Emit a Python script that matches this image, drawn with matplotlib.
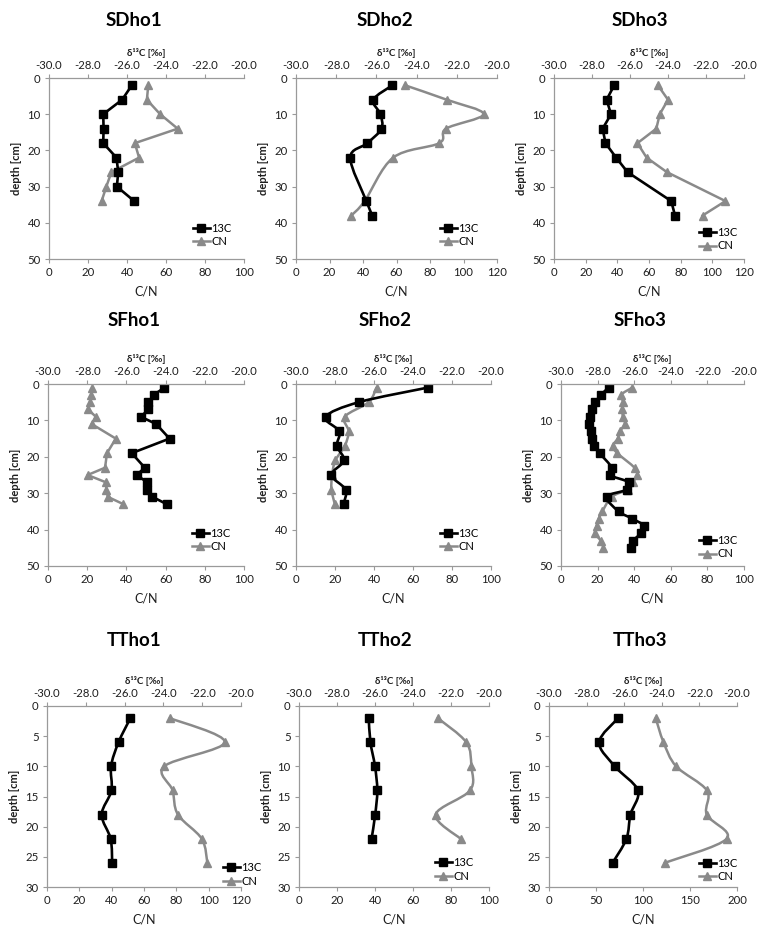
import numpy as np
import matplotlib
matplotlib.use("Agg")
import matplotlib.pyplot as plt
from matplotlib.path import Path
from matplotlib.patches import PathPatch
from matplotlib.lines import Line2D

plt.rcParams['font.family'] = ['Lato', 'DejaVu Sans']
plt.rcParams['axes.unicode_minus'] = False

# --- Daten (delta13C in Promille, C/N, Tiefe in cm) ---
sdho1_depth = [2, 6, 10, 14, 18, 22, 26, 30, 34]
sdho1_d13c = [-25.75, -26.25, -27.22, -27.2, -27.22, -26.54, -26.45, -26.52, -25.63]
sdho1_cn = [50.9, 50.2, 57.0, 66.0, 44.0, 46.2, 32.0, 29.4, 27.0]

sdho2_depth = [2, 6, 10, 14, 18, 22, 34, 38]
sdho2_d13c = [-25.2, -26.15, -25.8, -25.75, -26.45, -27.3, -26.5, -26.2]
sdho2_cn = [65.0, 90.0, 112.0, 89.5, 85.5, 58.0, 41.0, 33.0]

sdho3_depth = [2, 6, 10, 14, 18, 22, 26, 34, 38]
sdho3_d13c = [-26.83, -27.23, -27.0, -27.44, -27.29, -26.73, -26.13, -23.83, -23.63]
sdho3_cn = [65.6, 72.0, 66.8, 64.6, 52.7, 58.5, 71.3, 108.3, 93.8]

sfho1_depth = [1, 3, 5, 7, 9, 11, 15, 19, 23, 25, 27, 29, 31, 33]
sfho1_d13c = [-24.07, -24.6, -24.88, -24.88, -25.26, -24.48, -23.8, -25.73,
              -25.06, -25.48, -24.94, -24.94, -24.67, -23.95]
sfho1_cn = [22.7, 22.1, 21.4, 20.5, 24.4, 22.3, 34.6, 30.1, 29.1, 20.2, 29.5, 29.8, 30.5, 38.4]

sfho2_depth = [1, 5, 9, 13, 17, 21, 25, 29, 33]
sfho2_d13c = [-23.25, -26.78, -28.48, -27.78, -27.9, -27.54, -28.18, -27.46, -27.56]
sfho2_cn = [41.3, 37.2, 25.0, 27.0, 25.0, 20.2, 18.5, 18.2, 19.9]

sfho3_depth = [1, 3, 5, 7, 9, 11, 13, 15, 17, 19, 23, 25, 27, 29, 31, 35, 37, 39, 41, 43, 45]
sfho3_d13c = [-27.4, -27.82, -28.12, -28.32, -28.42, -28.49, -28.36, -28.28, -28.17, -27.89,
              -27.22, -27.34, -26.29, -26.38, -27.5, -26.85, -26.1, -25.45, -25.64, -26.04, -26.17]
sfho3_cn = [39.0, 32.8, 34.1, 33.6, 33.8, 35.0, 32.1, 31.0, 28.3, 30.8,
            40.2, 41.6, 39.2, 36.5, 27.7, 22.6, 20.6, 19.4, 18.6, 21.6, 23.2]

ttho1_depth = [2, 6, 10, 14, 18, 22, 26]
ttho1_d13c = [-25.7, -26.31, -26.7, -26.68, -27.18, -26.72, -26.64]
ttho1_cn = [76.0, 110.0, 72.5, 77.7, 81.0, 95.7, 99.2]

ttho2_depth = [2, 6, 10, 14, 18, 22]
ttho2_d13c = [-26.33, -26.24, -26.0, -25.88, -25.99, -26.18]
ttho2_cn = [73.0, 88.0, 90.7, 90.0, 71.9, 85.0]

ttho3_depth = [2, 6, 10, 14, 18, 22, 26]
ttho3_d13c = [-26.32, -27.33, -26.5, -25.27, -25.67, -25.88, -26.62]
ttho3_cn = [113.5, 121.8, 135.3, 168.0, 167.8, 189.0, 123.0]

# name, depth, d13c, cn, C/N-Achse (max, step), Tiefe (max, step), geglaettet
panels = [
    ("SDho1", sdho1_depth, sdho1_d13c, sdho1_cn, 100, 20, 50, 10, False),
    ("SDho2", sdho2_depth, sdho2_d13c, sdho2_cn, 120, 20, 50, 10, True),
    ("SDho3", sdho3_depth, sdho3_d13c, sdho3_cn, 120, 20, 50, 10, False),
    ("SFho1", sfho1_depth, sfho1_d13c, sfho1_cn, 100, 20, 50, 10, False),
    ("SFho2", sfho2_depth, sfho2_d13c, sfho2_cn, 100, 20, 50, 10, True),
    ("SFho3", sfho3_depth, sfho3_d13c, sfho3_cn, 100, 20, 50, 10, True),
    ("TTho1", ttho1_depth, ttho1_d13c, ttho1_cn, 120, 20, 30, 5, True),
    ("TTho2", ttho2_depth, ttho2_d13c, ttho2_cn, 100, 20, 30, 5, True),
    ("TTho3", ttho3_depth, ttho3_d13c, ttho3_cn, 200, 50, 30, 5, True),
]

# Plotflaechen in Pixel (links, rechts, oben, unten)
W, H = 757, 927
boxes = [
    (49, 244, 78, 259), (296, 497, 78, 259), (554, 744, 78, 259),
    (48, 244, 384, 566), (296, 491, 384, 566), (561, 744, 384, 566),
    (47, 241, 706, 887), (299, 489, 706, 887), (549, 737, 706, 887),
]
title_x = [134, 385, 640]
title_y = [20, 321, 641]
legend_pos = [(0.738, 0.133), (0.716, 0.133), (0.763, 0.110),
              (0.735, 0.143), (0.738, 0.143), (0.754, 0.104),
              (0.907, 0.069), (0.716, 0.097), (0.798, 0.094)]

GRAY = "#8a8a8a"
AXIS = "#9a9a9a"
TXT = "#1e1e1e"


def smooth_path(xs, ys):
    pts = np.column_stack([xs, ys]).astype(float)
    n = len(pts)
    verts = [pts[0]]
    codes = [Path.MOVETO]
    for i in range(n - 1):
        p0 = pts[max(i - 1, 0)]
        p1 = pts[i]
        p2 = pts[i + 1]
        p3 = pts[min(i + 2, n - 1)]
        verts += [p1 + (p2 - p0) / 6, p2 - (p3 - p1) / 6, p2]
        codes += [Path.CURVE4] * 3
    return Path(verts, codes)


def draw_series(ax, x, y, color, marker, ms, lw, smooth):
    if smooth:
        ax.add_patch(PathPatch(smooth_path(x, y), fill=False, edgecolor=color,
                               lw=lw, joinstyle="round", capstyle="round"))
        ax.plot(x, y, linestyle="none", marker=marker, ms=ms, color=color)
    else:
        ax.plot(x, y, color=color, lw=lw, marker=marker, ms=ms)


fig = plt.figure(figsize=(W / 100, H / 100), dpi=100)

for i, (name, depth, d13c, cn, cmax, cstep, dmax, dstep, smooth) in enumerate(panels):
    l, r, t, b = boxes[i]
    ax = fig.add_axes([l / W, 1 - b / H, (r - l) / W, (b - t) / H])
    ax2 = ax.twiny()

    draw_series(ax, cn, depth, GRAY, "^", 5.8, 1.8, smooth)
    draw_series(ax2, d13c, depth, "black", "s", 5.8, 1.9, smooth)

    ax.set_xlim(0, cmax)
    ax.set_xticks(np.arange(0, cmax + 1, cstep))
    ax.set_ylim(dmax, 0)
    ax.set_yticks(np.arange(0, dmax + 1, dstep))
    ax2.set_xlim(-30, -20)
    ax2.set_xticks(np.arange(-30, -19, 2))
    ax2.set_xticklabels([f"{v:.1f}" for v in np.arange(-30, -19, 2)])

    for s in ["top", "right"]:
        ax.spines[s].set_visible(False)
    for s in ["left", "right", "bottom"]:
        ax2.spines[s].set_visible(False)
    for s in ["left", "bottom"]:
        ax.spines[s].set_color(AXIS)
        ax.spines[s].set_linewidth(0.9)
    ax2.spines["top"].set_color(AXIS)
    ax2.spines["top"].set_linewidth(0.9)

    ax.tick_params(axis="both", color=AXIS, length=3, width=0.8,
                   labelsize=8.2, labelcolor=TXT, pad=3)
    ax2.tick_params(axis="x", color=AXIS, length=3, width=0.8,
                    labelsize=8.2, labelcolor=TXT, pad=2)

    ax.set_xlabel("C/N", fontsize=9, color=TXT, labelpad=5)
    ax.set_ylabel("depth [cm]", fontsize=8, fontweight="bold", color=TXT, labelpad=4)
    ax2.set_xlabel("δ¹³C [‰]", fontsize=7, fontweight="bold", color=TXT, labelpad=3)

    fig.text(title_x[i % 3] / W, 1 - title_y[i // 3] / H, name, ha="center", va="center",
             fontsize=13.5, fontweight="bold", color="black")

    handles = [Line2D([], [], color="black", lw=1.9, marker="s", ms=5.8),
               Line2D([], [], color=GRAY, lw=1.8, marker="^", ms=5.8)]
    ax2.legend(handles, ["13C", "CN"], loc="center left", bbox_to_anchor=legend_pos[i],
               frameon=False, borderpad=0, borderaxespad=0, handlelength=1.5,
               handletextpad=0.15, labelspacing=0.25, fontsize=8)

fig.savefig("out.png", dpi=100)
